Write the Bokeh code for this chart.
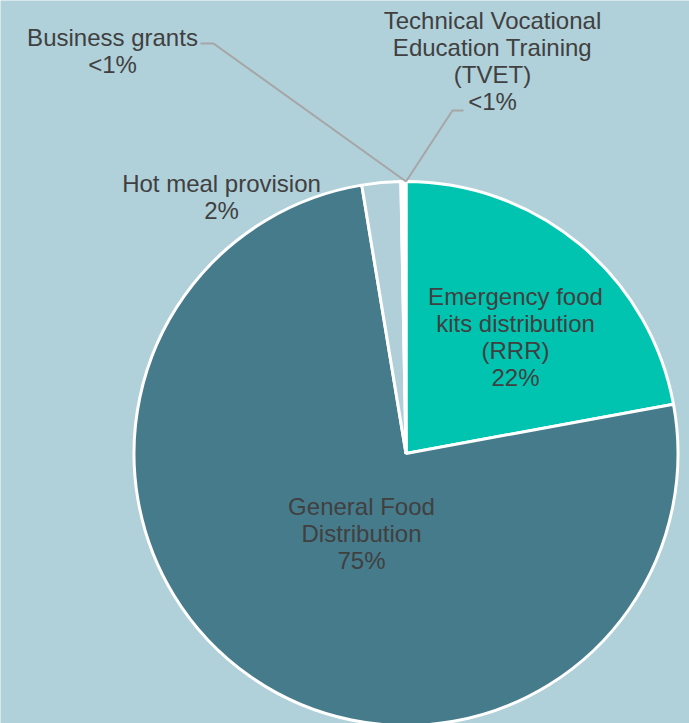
import math
from bokeh.plotting import figure
from bokeh.models import Range1d, ColumnDataSource
from bokeh.core.properties import value
from bokeh.embed import file_html
from bokeh.resources import INLINE

# ---- data (clockwise from 12 o'clock) ----
categories = ["Emergency food kits distribution (RRR)", "General Food Distribution",
              "Hot meal provision", "Business grants",
              "Technical Vocational Education Training (TVET)"]
shares = [22.1, 75.3, 2.3, 0.15, 0.15]
share_labels = ["22%", "75%", "2%", "<1%", "<1%"]
label_texts = ["Emergency food\nkits distribution\n(RRR)\n22%",
               "General Food\nDistribution\n75%",
               "Hot meal provision\n2%",
               "Business grants\n<1%",
               "Technical Vocational\nEducation Training\n(TVET)\n<1%"]
colors = ["#00C4B0", "#467B8B", "#B0CFD9", "#B0CFD9", "#B0CFD9"]

BG = "#B0D0DA"
W, H = 689, 723
CX, CY, R = 405.5, 453, 272

p = figure(width=W, height=H, output_backend="svg", toolbar_location=None,
           x_range=Range1d(0, W), y_range=Range1d(-H, 0),
           min_border=0, background_fill_color=BG, border_fill_color=BG,
           outline_line_color=None)
p.axis.visible = False
p.grid.visible = False

total = sum(shares)
starts, ends = [], []
cum = 0.0
for s in shares:
    starts.append(math.pi / 2 - 2 * math.pi * cum / total)
    cum += s
    ends.append(math.pi / 2 - 2 * math.pi * cum / total)

src = ColumnDataSource(dict(start=starts, end=ends, color=colors, cat=categories))
p.wedge(x=CX, y=-CY, radius=R, start_angle="start", end_angle="end",
        direction="clock", fill_color="color", line_color="white",
        line_width=3, source=src)

# leader lines for the tiny slices
top_pt = (CX, CY - R)
p.line(x=[200, 213, top_pt[0]], y=[-43, -43, -top_pt[1]], line_color="#A6A6A6", line_width=2)
p.line(x=[463, 452, top_pt[0]], y=[-110, -110, -top_pt[1]], line_color="#A6A6A6", line_width=2)

label_x = [515, 361, 221, 112, 492]
label_y = [-336.5, -533, -196.5, -50, -60]
lsrc = ColumnDataSource(dict(x=label_x, y=label_y, t=label_texts))
p.text(x="x", y="y", text="t", source=lsrc, text_align="center",
       text_baseline="middle", text_font=value("Liberation Sans"),
       text_font_size="24px", text_color="#404040", text_line_height=1.0)

open("out.html", "w").write(file_html(p, INLINE))
